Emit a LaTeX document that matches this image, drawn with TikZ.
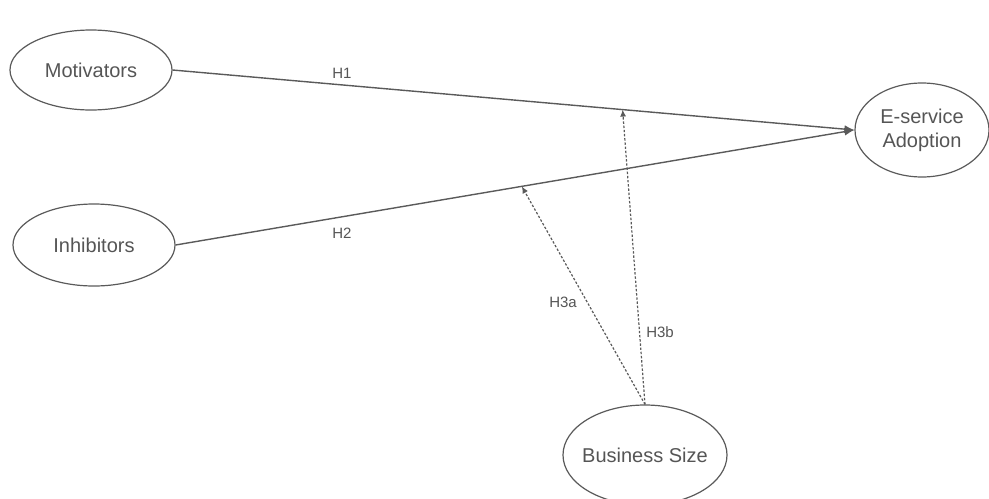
\documentclass[tikz,border=0pt]{standalone}
\usepackage{fontspec}
\setmainfont{Liberation Sans}
\usetikzlibrary{shapes.geometric,arrows.meta}

\definecolor{linegray}{HTML}{5A5A5A}
\definecolor{textgray}{HTML}{555555}

\begin{document}
\begin{tikzpicture}[x=0.5pt,y=-0.5pt,
        construct/.style={ellipse,draw=linegray,line width=0.6pt,inner sep=0pt,
            align=center,text=textgray,font=\fontsize{10}{12}\selectfont},
        hyp/.style={-{Latex[length=5pt,width=4pt]},draw=linegray,line width=0.7pt},
        moderation/.style={-{Latex[length=3.5pt,width=3pt]},draw=linegray,line width=0.6pt,
            dash pattern=on 1.2pt off 0.9pt},
        hyp label/.style={text=textgray,font=\fontsize{7.5}{9}\selectfont}]
    \clip (0,0) rectangle (989,498);
    \useasboundingbox (0,0) rectangle (989,498);
    \node[construct,minimum width=81pt,minimum height=40pt] (mot) at (91,70) {Motivators};
    \node[construct,minimum width=81pt,minimum height=41pt] (inh) at (94,245) {Inhibitors};
    \node[construct,minimum width=67pt,minimum height=47pt] (esa) at (922,130) {E-service\\Adoption};
    \node[construct,inner xsep=-2.5pt,minimum width=82pt,minimum height=50pt] (bsz) at (645,455) {Business Size};
    \draw[hyp] (mot.east) -- coordinate[pos=0.66] (m1) (esa.west);
    \draw[hyp] (inh.east) -- coordinate[pos=0.51] (m2) (esa.west);
    \draw[moderation] (bsz.north) -- (m2);
    \draw[moderation] (bsz.north) -- (m1);
    \node[hyp label] (h1) at (342,73) {H1};
    \node[hyp label] (h2) at (342,233) {H2};
    \node[hyp label] (h3a) at (563,302) {H3a};
    \node[hyp label] (h3b) at (660,332) {H3b};
\end{tikzpicture}
\end{document}
